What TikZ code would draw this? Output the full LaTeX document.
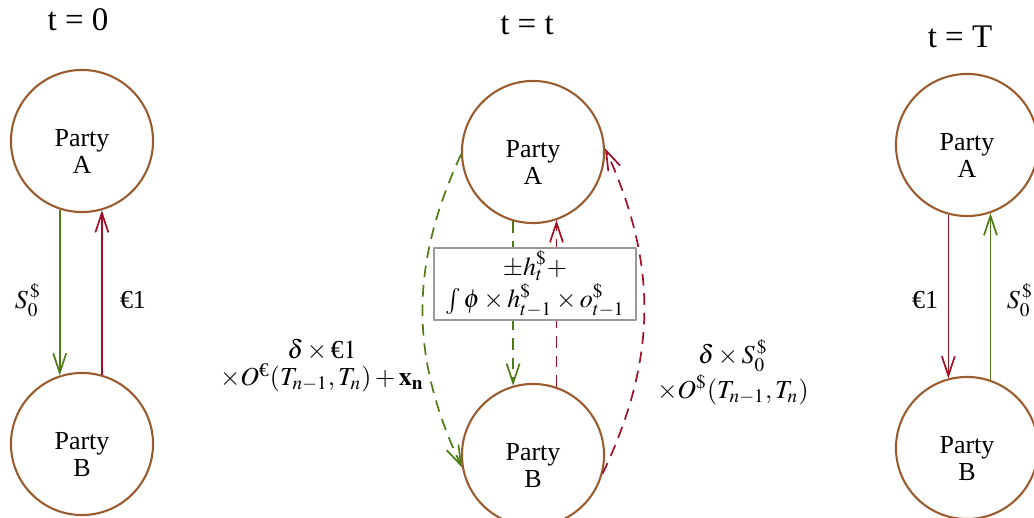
\documentclass[tikz,border=0pt]{standalone}
\usepackage{amsmath}
\usepackage{mathptmx}
\usepackage{fontspec}
\setmainfont{Liberation Serif}
\usetikzlibrary{arrows.meta}
\definecolor{brun}{RGB}{153,90,45}
\definecolor{olive}{RGB}{75,125,20}
\definecolor{bordeaux}{RGB}{165,15,35}
\newcommand{\partie}[1]{\rule{0pt}{15pt}Party\\#1}
\begin{document}
\begin{tikzpicture}[x=0.385pt,y=-0.385pt, line join=round, font=\fontsize{10}{10.4}\selectfont,
>={Straight Barb[length=7.5pt,width=5pt]},
party/.style={circle,draw=brun,line width=0.8pt,minimum size=54.7pt,inner sep=0pt,align=center},
titre/.style={font=\fontsize{12.7}{14}\selectfont},
fluxvert/.style={draw=olive,line width=0.65pt},
fluxrouge/.style={draw=bordeaux,line width=0.65pt},
pointille/.style={dash pattern=on 4.5pt off 3pt},
boite/.style={draw=gray!80,fill=white,line width=0.6pt,align=center,minimum width=77.8pt,minimum height=26pt,inner ysep=1pt,font=\fontsize{10}{12.5}\selectfont}]
\useasboundingbox (0,0) rectangle (1034,518);
\path
(78,20) node[titre] (t0) {t = 0}
(527,25) node[titre] (tt) {t = t}
(960,37) node[titre] (tT) {t = T}
(82,141) node[party] (A0) {\partie{A}}
(82,444) node[party] (B0) {\partie{B}}
(533,152) node[party] (At) {\partie{A}}
(533,455) node[party] (Bt) {\partie{B}}
(967,145) node[party] (AT) {\partie{A}}
(967,448) node[party] (BT) {\partie{B}};
% t = 0
\draw[fluxvert,->] (A0.-108)--(B0.108);
\draw[fluxrouge,->] (B0.74.5)--(A0.-74.5);
\path
(28,300) node (sA0) {$S_0^{\,\$}$}
(133,300) node (eA0) {€1};
% t = t
\draw[fluxvert,pointille,->] (At.-106)--(Bt.106);
\draw[fluxrouge,pointille,->] (Bt.71)--(At.-71);
\draw[fluxvert,pointille,->] (At.182) to[bend right=25] (Bt.190);
\draw[fluxrouge,pointille,->] (Bt.-15) to[bend right=25] (At.3);
\path
(535,284) node[boite] (hedge) {$\pm h_t^{\$}+$\\$\int\phi\times h_{t-1}^{\$}\times o_{t-1}^{\$}$}
(322,366) node[align=center] (jambeE) {$\delta\times\text{€}1$\\$\times O^{\text{€}}(T_{n-1},T_n)+\mathbf{x_n}$}
(733,372) node[align=center] (jambeS) {$\delta\times S_0^{\,\$}$\\$\times O^{\$}(T_{n-1},T_n)$};
% t = T
\draw[fluxrouge,->] (AT.-105.5)--(BT.105.5);
\draw[fluxvert,->] (BT.71)--(AT.-71);
\path
(925,300) node (eAT) {€1}
(1020,300) node (sAT) {$S_0^{\,\$}$};
\end{tikzpicture}
\end{document}
